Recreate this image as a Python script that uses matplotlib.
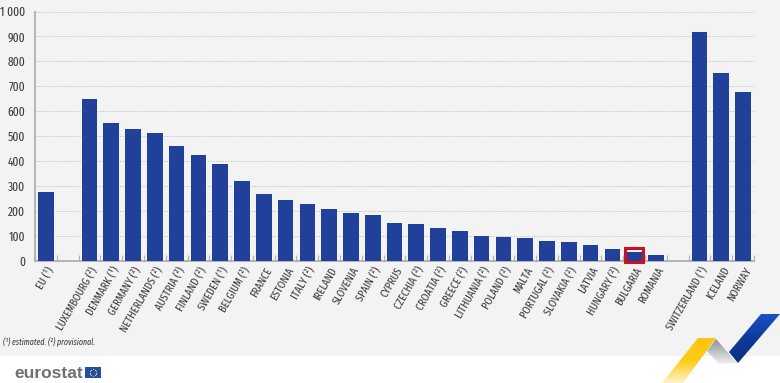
import matplotlib
matplotlib.use("Agg")
import matplotlib.pyplot as plt
import numpy as np
from matplotlib.patches import Polygon, Rectangle
from matplotlib.colors import LinearSegmentedColormap

W, H = 780, 383
labels = ["EU (¹)", "", "LUXEMBOURG (²)", "DENMARK (¹)", "GERMANY (²)", "NETHERLANDS (²)", "AUSTRIA (²)",
          "FINLAND (²)", "SWEDEN (¹)", "BELGIUM (²)", "FRANCE", "ESTONIA", "ITALY (²)", "IRELAND",
          "SLOVENIA", "SPAIN (²)", "CYPRUS", "CZECHIA (²)", "CROATIA (²)", "GREECE (²)", "LITHUANIA (²)",
          "POLAND (²)", "MALTA", "PORTUGAL (²)", "SLOVAKIA (²)", "LATVIA", "HUNGARY (²)", "BULGARIA",
          "ROMANIA", "", "SWITZERLAND (¹)", "ICELAND", "NORWAY"]
values = [278, np.nan, 648, 555, 530, 512, 460, 425, 390, 320, 270, 245, 228, 207, 192, 185, 152, 148,
          132, 122, 100, 96, 94, 80, 78, 63, 50, 35, 24, np.nan, 917, 752, 678]
highlight = "BULGARIA"
yticks = [0, 100, 200, 300, 400, 500, 600, 700, 800, 900, 1000]
ylabels = ["0", "100", "200", "300", "400", "500", "600", "700", "800", "900", "1 000"]
footnote = "(¹) estimated. (²) provisional."

FONT = ["Fira Sans Extra Condensed", "Asap Condensed", "DejaVu Sans Condensed", "DejaVu Sans"]
plt.rcParams["font.family"] = FONT
TXT = "#3c3c3c"
BAR = "#21409a"

fig = plt.figure(figsize=(W / 100, H / 100), dpi=100, facecolor="white")
fig.add_artist(Rectangle((0, (H - 356) / H), 1, 356 / H, transform=fig.transFigure,
                         fc="#f3f3f3", ec="none", zorder=-5))

L, R, T, B = 35, 754, 11.5, 261
ax = fig.add_axes([L / W, 1 - B / H, (R - L) / W, (B - T) / H], facecolor="none")
x = np.arange(len(labels))
ax.bar(x, values, width=0.72, color=BAR, zorder=3)
ax.set_xlim(-0.5, len(labels) - 0.5)
ax.set_ylim(0, 1000)
ax.set_yticks(yticks)
ax.set_yticklabels(ylabels, fontsize=9, color=TXT)
ax.tick_params(axis="y", length=0, pad=7)
ax.yaxis.grid(True, ls=(0, (1.5, 1.5)), color="#c4c4c4", lw=0.7, zorder=0)
ax.set_axisbelow(True)
for s in ["top", "right"]:
    ax.spines[s].set_visible(False)
for s in ["left", "bottom"]:
    ax.spines[s].set_color("#a9a9a9")
    ax.spines[s].set_linewidth(1.2)
ax.set_xticks(np.arange(len(labels) + 1) - 0.5)
ax.set_xticklabels([""] * (len(labels) + 1))
ax.tick_params(axis="x", direction="in", length=4, width=0.9, color="#b5b5b5")
for xi, lab in zip(x, labels):
    if lab:
        ax.annotate(lab, (xi, 0), xytext=(4, -5), textcoords="offset points", rotation=60,
                    rotation_mode="anchor", ha="right", va="center", fontsize=8.2, color=TXT)
i = labels.index(highlight)
ax.bar(i, 58, bottom=-6, width=0.82, fc="none", ec="#c9141e", lw=2.2, zorder=5, clip_on=False)

fig.text(3 / W, 1 - 345 / H, footnote, fontsize=6.2, style="italic", color=TXT, va="baseline")

# Overlay in pixel coordinates for the logo and ribbon
ov = fig.add_axes([0, 0, 1, 1], facecolor="none", zorder=10)
ov.axis("off")

def grad(poly, cols, extent):
    cm = LinearSegmentedColormap.from_list("c", cols)
    d = np.linspace(0, 1, 64).reshape(-1, 1)
    im = ov.imshow(d, cmap=cm, extent=extent, aspect="auto", origin="upper", zorder=11)
    p = Polygon(poly, closed=True, transform=ov.transData, fc="none", ec="none")
    ov.add_patch(p)
    im.set_clip_path(p)

ov.set_xlim(0, W); ov.set_ylim(H, 0)
grad([(698, 338), (716, 338), (683, 383), (662, 383)], ["#fdc40f", "#fdcc18", "#fdf3c8"], (660, 720, 383, 338))
grad([(716, 339), (737, 363), (719, 364), (707, 351)], ["#8e9297", "#f0f0f0"], (707, 737, 364, 339))
grad([(761, 314), (780, 314), (738, 363), (729, 352)], ["#1b50c4", "#0e3a9c", "#0b2f80"], (729, 780, 363, 314))
ov.set_xlim(0, W); ov.set_ylim(H, 0)

ov.text(14, 378, "eurostat", family=["Liberation Sans", "DejaVu Sans"], fontsize=12.5, fontweight="bold",
        color="#6e7073", va="baseline", ha="left")
ov.add_patch(Rectangle((85, 367), 16, 11, fc="#1f4fa8", ec="none", zorder=12))
theta = np.linspace(0, 2 * np.pi, 12, endpoint=False)
ov.scatter(93 + 3.4 * np.cos(theta), 372.5 + 3.4 * np.sin(theta), s=0.7, color="#f5d33a", zorder=13, linewidths=0)

fig.savefig("out.png", dpi=100, facecolor="white")
